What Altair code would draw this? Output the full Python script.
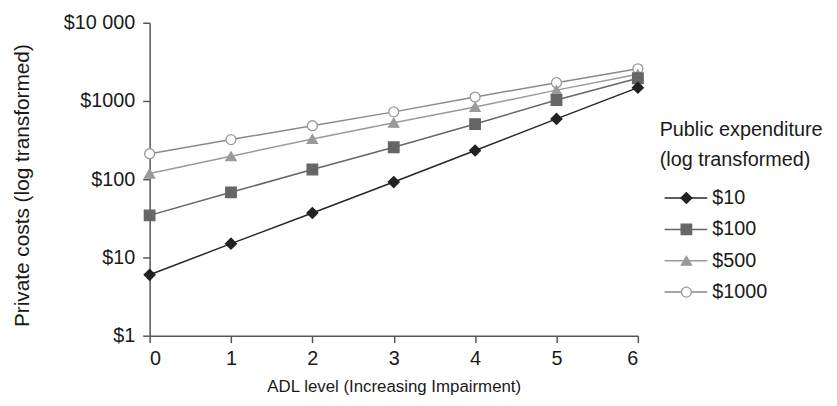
import altair as alt
import pandas as pd

adl_levels = [0, 1, 2, 3, 4, 5, 6]
series_names = ["$10", "$100", "$500", "$1000"]
cost_10 = [6, 15, 37, 92, 233, 590, 1480]
cost_100 = [34.5, 68, 133, 256, 507, 1030, 1950]
cost_500 = [118, 197, 327, 527, 839, 1377, 2200]
cost_1000 = [212, 321, 483, 726, 1124, 1714, 2580]
y_tick_values = [1, 10, 100, 1000, 10000]
y_tick_labels = ["$1", "$10", "$100", "$1000", "$10 000"]
legend_title = ["Public expenditure", "(log transformed)"]

FONT = "Liberation Sans"
W, H = 493, 316

rows = []
for name, vals in zip(series_names, [cost_10, cost_100, cost_500, cost_1000]):
    for x, v in zip(adl_levels, vals):
        rows.append({"adl": x, "cost": v, "series": name})
df = pd.DataFrame(rows)
df_pts = pd.concat([df[df.series == s] for s in reversed(series_names)])

label_expr = " : ".join(
    f"datum.value == {v} ? '{l}'" for v, l in zip(y_tick_values, y_tick_labels)
) + " : ''"

line_colors = ["#262626", "#666666", "#9a9a9a", "#8a8a8a"]
shapes = ["diamond", "square", "triangle-up", "circle"]
fills = ["#222222", "#666666", "#9a9a9a", "#ffffff"]
strokes = ["#222222", "#666666", "#9a9a9a", "#999999"]
sizes = [120, 100, 120, 95]

color_enc = alt.Color("series:N", scale=alt.Scale(domain=series_names, range=line_colors), legend=None)
shape_enc = alt.Shape("series:N", scale=alt.Scale(domain=series_names, range=shapes), legend=None)
fill_enc = alt.Fill("series:N", scale=alt.Scale(domain=series_names, range=fills), legend=None)
stroke_enc = alt.Stroke("series:N", scale=alt.Scale(domain=series_names, range=strokes), legend=None)
size_enc = alt.Size("series:N", scale=alt.Scale(domain=series_names, range=sizes), legend=None)

x_enc = alt.X(
    "adl:Q",
    scale=alt.Scale(domain=[0, 6], nice=False, zero=False),
    axis=alt.Axis(
        values=adl_levels, format="d", grid=False,
        title="ADL level (Increasing Impairment)",
        titleX=W / 2, titleY=51, titleBaseline="middle", titleAlign="center",
        titleFontSize=17, labelPadding=6,
    ),
)
y_scale = alt.Scale(type="log", domain=[1, 10000], nice=False)
y_enc = alt.Y(
    "cost:Q",
    scale=y_scale,
    axis=alt.Axis(
        values=y_tick_values, labelExpr=label_expr, grid=False,
        title="Private costs (log transformed)",
        titleX=-128, titleY=164, titleAngle=270,
        titleBaseline="middle", titleAlign="center",
        titleFontSize=21, labelPadding=8,
    ),
)

lines = alt.Chart(df).mark_line(strokeWidth=1.5).encode(x=x_enc, y=y_enc, color=color_enc)
points = alt.Chart(df_pts).mark_point(filled=True, strokeWidth=1.3, opacity=1).encode(
    x="adl:Q",
    y=alt.Y("cost:Q", scale=y_scale),
    shape=shape_enc, fill=fill_enc, stroke=stroke_enc, size=size_enc,
)
main = alt.layer(lines, points)

leg_df = pd.DataFrame({"series": series_names})
y_leg = alt.Y("series:N", scale=alt.Scale(type="point", domain=series_names, range=[177, 272], padding=0), axis=None)
leg_rule = alt.Chart(leg_df).mark_rule(strokeWidth=1.5).encode(
    x=alt.value(520), x2=alt.value(563), y=y_leg, color=color_enc
)
leg_pts = alt.Chart(leg_df).mark_point(filled=True, strokeWidth=1.3, opacity=1).encode(
    x=alt.value(542), y=y_leg, shape=shape_enc, fill=fill_enc, stroke=stroke_enc, size=size_enc
)
leg_text = alt.Chart(leg_df).mark_text(align="left", baseline="middle", font=FONT, fontSize=20, color="#1a1a1a").encode(
    x=alt.value(568), y=y_leg, text="series:N"
)
leg_title1 = alt.Chart(pd.DataFrame({"t": [legend_title[0]]})).mark_text(
    align="left", baseline="middle", font=FONT, fontSize=20, color="#1a1a1a"
).encode(x=alt.value(515), y=alt.value(108), text="t:N")
leg_title2 = alt.Chart(pd.DataFrame({"t": [legend_title[1]]})).mark_text(
    align="left", baseline="middle", font=FONT, fontSize=20, color="#1a1a1a"
).encode(x=alt.value(515), y=alt.value(139), text="t:N")
legend = alt.layer(leg_rule, leg_pts, leg_text, leg_title1, leg_title2)

chart = alt.layer(main, legend).resolve_scale(y="independent").properties(
    width=W, height=H,
    autosize=alt.AutoSizeParams(type="none"),
    padding={"left": 143, "top": 13, "right": 193, "bottom": 58},
).configure_view(stroke=None).configure_axis(
    domainColor="#555555", domainWidth=1.5, tickColor="#555555", tickWidth=1.5, tickSize=7,
    labelFont=FONT, labelFontSize=20, labelColor="#1a1a1a",
    titleFont=FONT, titleFontSize=20, titleFontWeight="normal", titleColor="#1a1a1a",
)

chart.save("out.html", embed_options={"renderer": "svg", "actions": False})
